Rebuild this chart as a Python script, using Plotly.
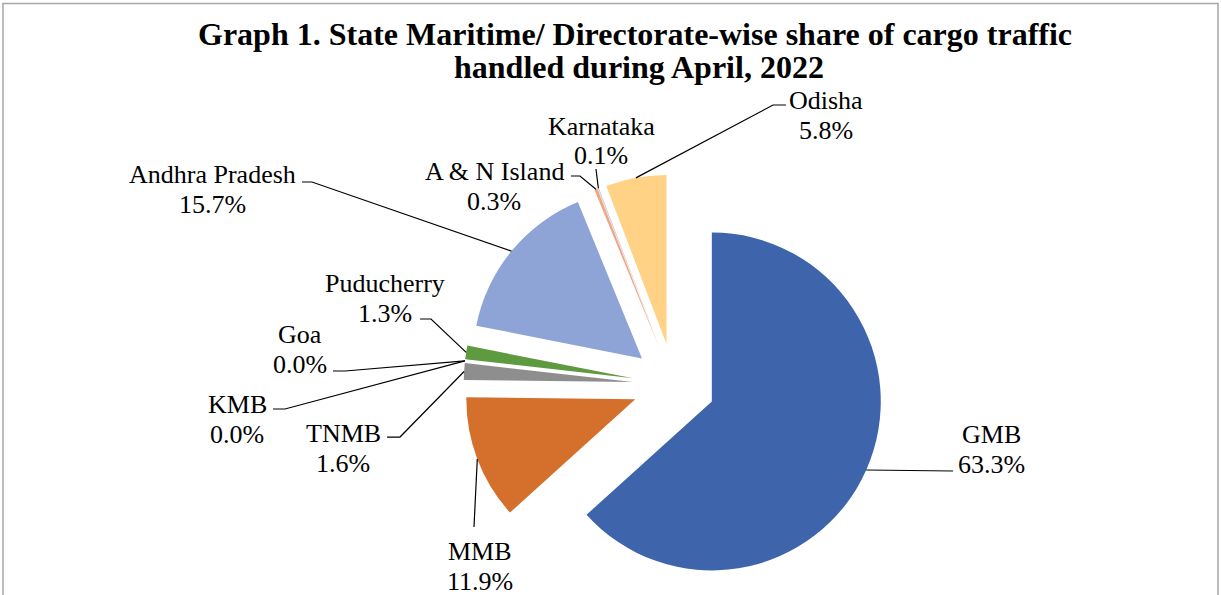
import plotly.graph_objects as go
import math

# ---- data ----
categories = ["GMB", "MMB", "TNMB", "KMB", "Goa", "Puducherry",
              "Andhra Pradesh", "A & N Island", "Karnataka", "Odisha"]
shares = [63.3, 11.9, 1.6, 0.0, 0.0, 1.3, 15.7, 0.3, 0.1, 5.8]
colors = ["#3E64AC", "#D4702C", "#8E8E8E", "#E6A800", "#4F87BD", "#5E9A40",
          "#8EA4D6", "#F0A585", "#C8C8C8", "#FFD285"]

title_lines = ["Graph 1. State Maritime/ Directorate-wise share of cargo traffic",
               "handled during April, 2022"]

# ---- layout (pixels) ----
W, H = 1221, 595
PULL = 0.245
dom_x = [(674 - 211) / W, (674 + 211) / W]
dom_y = [0.0, 0.707]
FONT = "Liberation Serif, Times New Roman, serif"
LABEL_SIZE = 26
LINE_GAP = 30

title_pos = [(635, 34), (639, 67)]

# name-line centre of each label (value line sits LINE_GAP below)
label_pos = {
    "GMB": (991, 434), "MMB": (480, 551), "TNMB": (343, 433), "KMB": (237, 404),
    "Goa": (300, 334), "Puducherry": (385, 283), "Andhra Pradesh": (212, 174),
    "A & N Island": (494, 171), "Karnataka": (601, 126), "Odisha": (826, 100),
}
leader_pts = {
    "GMB": [(953, 471)], "MMB": [(474, 527)],
    "TNMB": [(400, 437), (387, 437)], "KMB": [(285, 409), (273, 409)],
    "Goa": [(345, 371), (333, 371)], "Puducherry": [(431, 319), (420, 319)],
    "Andhra Pradesh": [(312, 182), (302, 182)], "A & N Island": [(580, 176), (571, 176)],
    "Karnataka": [(596, 169)], "Odisha": [(773, 105), (786, 105)],
}

# pie geometry as plotly computes it
box_w = W * (dom_x[1] - dom_x[0])
box_h = H * (dom_y[1] - dom_y[0])
r = min(box_w, box_h) / (2 + 2 * PULL)
cx = W * (dom_x[0] + dom_x[1]) / 2
cy = H * (1 - dom_y[0]) - box_h / 2

def px2paper(x, y):
    return x / W, 1 - y / H

fig = go.Figure()
fig.add_trace(go.Pie(
    labels=categories, values=shares, sort=False, direction="clockwise",
    rotation=0, pull=[PULL] * len(shares),
    marker=dict(colors=colors, line=dict(width=0)),
    textinfo="none", hoverinfo="label+percent", showlegend=False,
    domain=dict(x=dom_x, y=dom_y),
))

total = sum(shares)
cum = 0.0
shapes = []
annotations = []
for cat, v in zip(categories, shares):
    mid = (cum + v / 2) / total * 360.0
    cum += v
    th = math.radians(mid)
    ax_ = cx + r * (1 + PULL) * math.sin(th)
    ay_ = cy - r * (1 + PULL) * math.cos(th)
    pts = [(ax_, ay_)] + leader_pts[cat]
    path = "M " + " L ".join(
        "{:.4f},{:.4f}".format(*px2paper(x, y)) for x, y in pts)
    shapes.append(dict(type="path", path=path, xref="paper", yref="paper",
                       line=dict(color="#000000", width=1.2)))
    lxp, lyp = label_pos[cat]
    for k, txt in enumerate([cat, f"{v:.1f}%"]):
        lx, ly = px2paper(lxp, lyp + k * LINE_GAP)
        annotations.append(dict(
            x=lx, y=ly, xref="paper", yref="paper", xanchor="center", yanchor="middle",
            text=txt, showarrow=False, align="center",
            font=dict(family=FONT, size=LABEL_SIZE, color="#000000")))

for txt, (tx, ty) in zip(title_lines, title_pos):
    x, y = px2paper(tx, ty)
    annotations.append(dict(
        x=x, y=y, xref="paper", yref="paper", xanchor="center", yanchor="middle",
        text=f"<b>{txt}</b>", showarrow=False,
        font=dict(family=FONT, size=32, color="#000000")))

# chart border
shapes.append(dict(type="rect", xref="paper", yref="paper",
                   x0=3 / W, x1=1218 / W, y0=-0.2, y1=1 - 3.5 / H,
                   line=dict(color="#A6A6A6", width=1.5), fillcolor="rgba(0,0,0,0)"))

fig.update_layout(
    width=W, height=H,
    margin=dict(l=0, r=0, t=0, b=0),
    paper_bgcolor="white", plot_bgcolor="white",
    shapes=shapes, annotations=annotations,
)

fig.write_html("out.html",
               config={"displayModeBar": False},
               post_script="document.body.style.margin='0px';document.body.style.padding='0px';")
